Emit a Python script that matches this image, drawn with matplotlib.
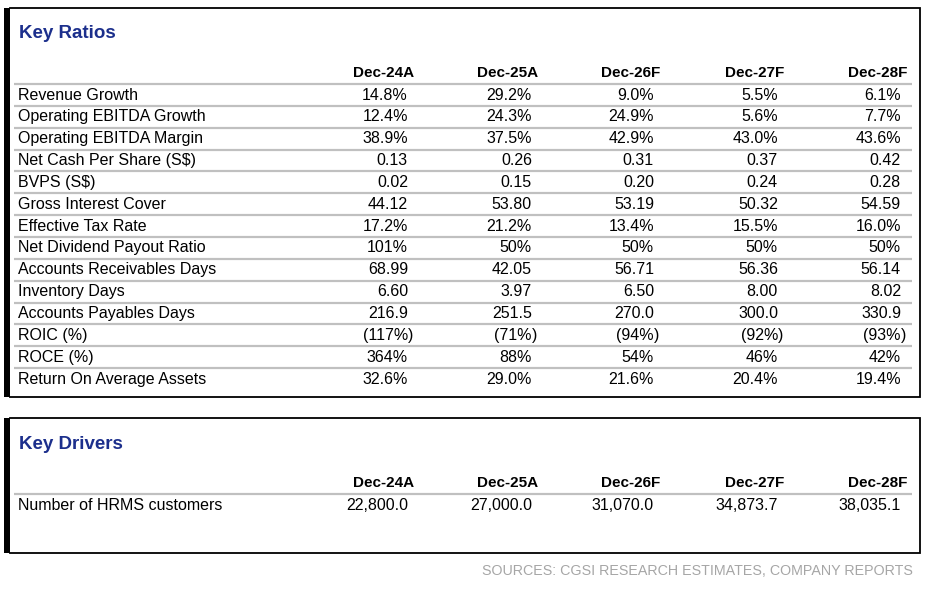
import matplotlib.pyplot as plt
from matplotlib.patches import Rectangle

plt.rcParams['font.family'] = ['Liberation Sans', 'DejaVu Sans']

periods = ['Dec-24A', 'Dec-25A', 'Dec-26F', 'Dec-27F', 'Dec-28F']

ratio_labels = [
    'Revenue Growth', 'Operating EBITDA Growth', 'Operating EBITDA Margin',
    'Net Cash Per Share (S$)', 'BVPS (S$)', 'Gross Interest Cover',
    'Effective Tax Rate', 'Net Dividend Payout Ratio',
    'Accounts Receivables Days', 'Inventory Days', 'Accounts Payables Days',
    'ROIC (%)', 'ROCE (%)', 'Return On Average Assets',
]
revenue_growth = ['14.8%', '29.2%', '9.0%', '5.5%', '6.1%']
ebitda_growth = ['12.4%', '24.3%', '24.9%', '5.6%', '7.7%']
ebitda_margin = ['38.9%', '37.5%', '42.9%', '43.0%', '43.6%']
net_cash_ps = ['0.13', '0.26', '0.31', '0.37', '0.42']
bvps = ['0.02', '0.15', '0.20', '0.24', '0.28']
interest_cover = ['44.12', '53.80', '53.19', '50.32', '54.59']
tax_rate = ['17.2%', '21.2%', '13.4%', '15.5%', '16.0%']
payout_ratio = ['101%', '50%', '50%', '50%', '50%']
receivable_days = ['68.99', '42.05', '56.71', '56.36', '56.14']
inventory_days = ['6.60', '3.97', '6.50', '8.00', '8.02']
payable_days = ['216.9', '251.5', '270.0', '300.0', '330.9']
roic = ['(117%)', '(71%)', '(94%)', '(92%)', '(93%)']
roce = ['364%', '88%', '54%', '46%', '42%']
roaa = ['32.6%', '29.0%', '21.6%', '20.4%', '19.4%']
ratio_rows = [revenue_growth, ebitda_growth, ebitda_margin, net_cash_ps, bvps,
              interest_cover, tax_rate, payout_ratio, receivable_days,
              inventory_days, payable_days, roic, roce, roaa]

driver_labels = ['Number of HRMS customers']
hrms_customers = ['22,800.0', '27,000.0', '31,070.0', '34,873.7', '38,035.1']
driver_rows = [hrms_customers]

source_text = 'SOURCES: CGSI RESEARCH ESTIMATES, COMPANY REPORTS'

title_color = '#1c2f8c'
rule_color = '#c0c0c0'
head_right = [414, 538, 660, 784, 907]
val_right = [h - 6 for h in head_right]
body_size = 11.5

fig = plt.figure(figsize=(9.37, 5.91), dpi=100)
ax = fig.add_axes([0, 0, 1, 1])
ax.set_xlim(0, 937)
ax.set_ylim(591, 0)
ax.axis('off')


def draw_box(top, bottom):
    ax.add_patch(Rectangle((4, top), 6, bottom - top, color='black', lw=0))
    ax.plot([10, 920, 920, 10], [top, top, bottom, bottom], color='black', lw=1.3,
            solid_joinstyle='miter')


def draw_table(title, labels, rows, title_base, head_base, first_rule):
    ax.text(19, title_base, title, color=title_color, fontsize=13.5,
            fontweight='bold', va='baseline', ha='left')
    for p, x in zip(periods, head_right):
        ax.text(x, head_base, p, fontsize=11, fontweight='bold',
                va='baseline', ha='right')
    step = 21.85
    for i, (lab, vals) in enumerate(zip(labels, rows)):
        top = first_rule + i * step
        ax.plot([14, 912], [top, top], color=rule_color, lw=1.6,
                solid_capstyle='butt')
        base = top + 15.5
        ax.text(18, base, lab, fontsize=body_size, va='baseline', ha='left')
        for v, x in zip(vals, val_right):
            if v.endswith(')'):
                ax.text(x, base, v[:-1], fontsize=body_size, va='baseline', ha='right')
                ax.text(x, base, ')', fontsize=body_size, va='baseline', ha='left')
            else:
                ax.text(x, base, v, fontsize=body_size, va='baseline', ha='right')


draw_box(8, 397)
draw_table('Key Ratios', ratio_labels, ratio_rows, 38, 77, 84)

draw_box(418, 553)
draw_table('Key Drivers', driver_labels, driver_rows, 449, 487, 494)

ax.text(913, 575, source_text, color='#a6a6a6', fontsize=10.3, va='baseline', ha='right')

fig.savefig('out.png', dpi=100, facecolor='white')
